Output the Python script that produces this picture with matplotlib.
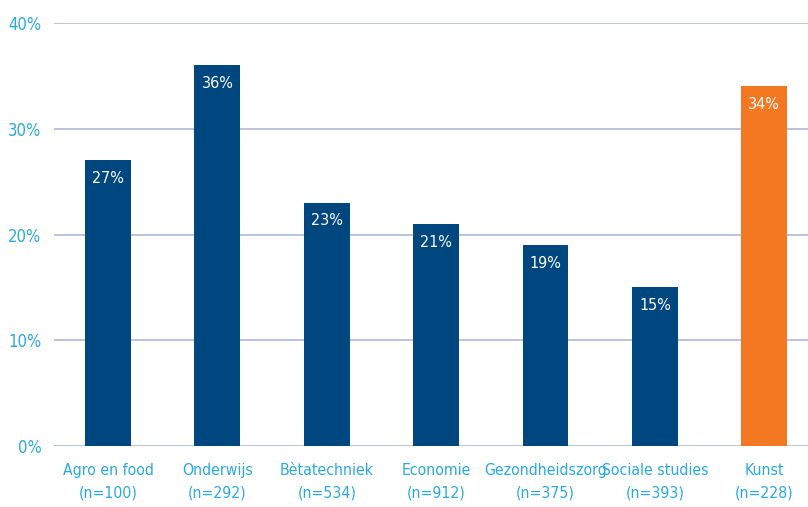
import matplotlib.pyplot as plt
import numpy as np

categories = ["Agro en food", "Onderwijs", "Bètatechniek", "Economie",
              "Gezondheidszorg", "Sociale studies", "Kunst"]
counts = [100, 292, 534, 912, 375, 393, 228]
values = [27, 36, 23, 21, 19, 15, 34]
highlight = "Kunst"

NAVY = "#00467f"
ORANGE = "#f47721"
LABEL = "#29a9e1"
GRID = "#a8b3d3"

plt.rcParams["font.family"] = ["DejaVu Sans"]
plt.rcParams["font.stretch"] = "condensed"

fig = plt.figure(figsize=(8.08, 5.07), dpi=100)
ax = fig.add_axes([0.0668, 0.1203, 0.9332, 0.8343])

x = np.arange(len(categories))
colors = [ORANGE if c == highlight else NAVY for c in categories]
bars = ax.bar(x, values, width=0.42, color=colors, zorder=3)

# value labels inside the top of each bar
for bar, v in zip(bars, values):
    ax.text(bar.get_x() + bar.get_width() / 2, v - 1.0, f"{v}%",
            ha="center", va="top", color="white", fontsize=11.5, zorder=4)

ax.set_ylim(0, 40)
ax.set_xlim(-0.494, 6.4)
ax.set_yticks([0, 10, 20, 30, 40])
ax.set_yticklabels([f"{t}%" for t in [0, 10, 20, 30, 40]], fontsize=12)
ax.set_xticks(x)
ax.set_xticklabels([f"{c}\n(n={n})" for c, n in zip(categories, counts)],
                   linespacing=1.65, fontsize=11.3)
ax.tick_params(axis="both", length=0, labelcolor=LABEL)
ax.tick_params(axis="y", pad=9)
ax.tick_params(axis="x", pad=12)
ax.grid(True, axis="y", color=GRID, linewidth=1.1, zorder=0)
for s in ax.spines.values():
    s.set_visible(False)

fig.savefig("out.png", dpi=100)
